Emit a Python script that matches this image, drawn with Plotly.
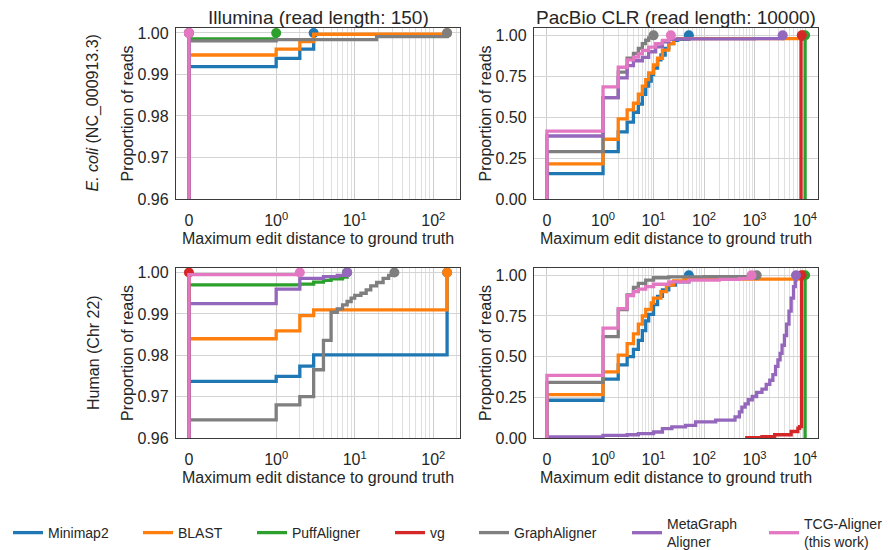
import math
import plotly.graph_objects as go

# ---------------- data ----------------
ALIGNERS = ["Minimap2", "BLAST", "PuffAligner", "vg", "GraphAligner",
            "MetaGraph<br>Aligner", "TCG-Aligner<br>(this work)"]

PANEL_TITLES = ["Illumina (read length: 150)", "PacBio CLR (read length: 10000)"]
ROW_LABELS = ["<i>E. coli</i> (NC_000913.3)", "Human (Chr 22)"]

# E. coli, Illumina
ecoli_ill_minimap2_x = [0, 1, 2, 3]
ecoli_ill_minimap2_y = [0.9919, 0.9939, 0.9961, 1.0]
ecoli_ill_blast_x = [0, 1, 2, 3, 150]
ecoli_ill_blast_y = [0.9947, 0.9961, 0.9979, 0.9997, 1.0]
ecoli_ill_puff_x = [0, 1]
ecoli_ill_puff_y = [0.9986, 1.0]
ecoli_ill_vg_x = [0]
ecoli_ill_vg_y = [1.0]
ecoli_ill_graph_x = [0, 1, 19, 150]
ecoli_ill_graph_y = [0.9981, 0.9984, 0.9991, 1.0]
ecoli_ill_meta_x = [0]
ecoli_ill_meta_y = [1.0]
ecoli_ill_tcg_x = [0]
ecoli_ill_tcg_y = [1.0]

# E. coli, PacBio CLR
ecoli_pb_minimap2_x = [0, 1, 2, 3, 4, 5, 6, 7, 8, 9, 10, 12, 14, 17, 20, 25, 30, 50]
ecoli_pb_minimap2_y = [0.155, 0.29, 0.41, 0.47, 0.53, 0.58, 0.64, 0.69, 0.72, 0.76,
                       0.80, 0.85, 0.88, 0.92, 0.95, 0.97, 0.975, 1.0]
ecoli_pb_blast_x = [0, 1, 2, 3, 4, 5, 6, 7, 8, 10, 12, 15, 20, 25, 30, 9000]
ecoli_pb_blast_y = [0.215, 0.365, 0.49, 0.545, 0.585, 0.64, 0.69, 0.73, 0.77, 0.82,
                    0.86, 0.91, 0.95, 0.975, 0.98, 1.0]
ecoli_pb_puff_x = [10000]
ecoli_pb_puff_y = [1.0]
ecoli_pb_vg_x = [8300, 8600]
ecoli_pb_vg_y = [0.975, 1.0]
ecoli_pb_graph_x = [0, 1, 2, 3, 4, 5, 6, 7, 8, 10]
ecoli_pb_graph_y = [0.29, 0.62, 0.775, 0.86, 0.89, 0.92, 0.95, 0.97, 0.985, 1.0]
ecoli_pb_meta_x = [0, 1, 2, 3, 4, 6, 8, 11, 15, 20, 30, 100, 1000, 3600]
ecoli_pb_meta_y = [0.385, 0.62, 0.74, 0.815, 0.845, 0.865, 0.90, 0.93, 0.96, 0.975,
                   0.978, 0.979, 0.98, 1.0]
ecoli_pb_tcg_x = [0, 1, 2, 3, 4, 5, 6, 8, 11, 15, 20, 22]
ecoli_pb_tcg_y = [0.415, 0.685, 0.805, 0.85, 0.867, 0.887, 0.908, 0.928, 0.949, 0.969,
                  0.984, 1.0]

# Human, Illumina
human_ill_minimap2_x = [0, 1, 2, 3, 150]
human_ill_minimap2_y = [0.9737, 0.9749, 0.9774, 0.9801, 1.0]
human_ill_blast_x = [0, 1, 2, 3, 150]
human_ill_blast_y = [0.9840, 0.9859, 0.9896, 0.9910, 1.0]
human_ill_puff_x = [0, 2, 3, 4, 5, 7, 8]
human_ill_puff_y = [0.9970, 0.9972, 0.9977, 0.9981, 0.9985, 0.9989, 1.0]
human_ill_vg_x = [0]
human_ill_vg_y = [1.0]
human_ill_graph_x = [0, 1, 2, 3, 4, 5, 6, 7, 8, 9, 10, 12, 14, 16, 19, 23, 27, 32]
human_ill_graph_y = [0.9644, 0.9680, 0.9700, 0.9765, 0.9836, 0.9904, 0.9912, 0.9922,
                     0.9930, 0.9938, 0.9945, 0.9950, 0.9958, 0.9968, 0.9976, 0.9986,
                     0.9993, 1.0]
human_ill_meta_x = [0, 1, 2, 4, 6, 8]
human_ill_meta_y = [0.9925, 0.9960, 0.9986, 0.9990, 0.9993, 1.0]
human_ill_tcg_x = [0, 2]
human_ill_tcg_y = [0.9995, 1.0]

# Human, PacBio CLR
human_pb_minimap2_x = [0, 1, 2, 3, 4, 5, 6, 7, 8, 10, 12, 15, 20, 27, 50]
human_pb_minimap2_y = [0.232, 0.362, 0.45, 0.50, 0.545, 0.60, 0.66, 0.72, 0.76, 0.82,
                       0.87, 0.91, 0.94, 0.96, 1.0]
human_pb_blast_x = [0, 1, 2, 3, 4, 5, 6, 7, 9, 10, 14, 18, 25, 40, 9000]
human_pb_blast_y = [0.267, 0.407, 0.51, 0.58, 0.64, 0.70, 0.75, 0.79, 0.83, 0.86,
                    0.90, 0.94, 0.965, 0.977, 1.0]
human_pb_puff_x = [10000]
human_pb_puff_y = [1.0]
human_pb_vg_x = [700, 1400, 2500, 5300, 7200, 7800, 8500]
human_pb_vg_y = [0.002, 0.008, 0.02, 0.04, 0.06, 0.07, 1.0]
human_pb_graph_x = [0, 1, 2, 3, 4, 5, 7, 10, 20, 100, 1000, 1100]
human_pb_graph_y = [0.342, 0.623, 0.79, 0.88, 0.925, 0.95, 0.97, 0.985, 0.99, 0.992,
                    0.994, 1.0]
human_pb_meta_x = [0, 1, 3, 5, 10, 15, 23, 43, 68, 170, 410, 500, 560, 650, 750, 900,
                   1100, 1400, 1700, 2000, 2300, 2600, 2900, 3200, 3500, 3900, 4300,
                   4800, 5300, 5900, 6400, 6600]
human_pb_meta_y = [0.006, 0.016, 0.02, 0.027, 0.037, 0.058, 0.068, 0.078, 0.099, 0.11,
                   0.13, 0.16, 0.19, 0.21, 0.235, 0.255, 0.28, 0.30, 0.33, 0.355, 0.39,
                   0.44, 0.48, 0.52, 0.57, 0.63, 0.70, 0.78, 0.86, 0.93, 0.97, 1.0]
human_pb_tcg_x = [0, 1, 2, 3, 4, 5, 7, 10, 20, 50, 200, 500, 870]
human_pb_tcg_y = [0.385, 0.675, 0.795, 0.875, 0.90, 0.915, 0.93, 0.945, 0.96, 0.97,
                  0.975, 0.98, 1.0]

X_MAJOR_LEFT = [0, 1, 10, 100]
X_MAJOR_RIGHT = [0, 1, 10, 100, 1000, 10000]
X_DATA_MAX_LEFT = 150
X_DATA_MAX_RIGHT = 10000
Y_TICKS_LEFT = [0.96, 0.97, 0.98, 0.99, 1.00]
Y_TICKS_RIGHT = [0.0, 0.25, 0.5, 0.75, 1.0]

# ---------------- styling ----------------
COLORS = ["#1f77b4", "#ff7f0e", "#2ca02c", "#d62728", "#7f7f7f", "#9467bd", "#e377c2"]
FONT = "Liberation Sans, Arial, Helvetica, sans-serif"
TXT = "#262626"
W, H = 888, 550
LIN = 1.0 / (1.0 - 0.1)  # matplotlib symlog linscale adjustment (linthresh=1)


def tx(v):
    """symlog transform (linthresh = 1, base 10)"""
    return v * LIN if v <= 1 else LIN + math.log10(v)


def px_x(p):
    return p / W


def px_y(p):
    return 1 - p / H


panels = [
    dict(xs=[ecoli_ill_minimap2_x, ecoli_ill_blast_x, ecoli_ill_puff_x, ecoli_ill_vg_x,
             ecoli_ill_graph_x, ecoli_ill_meta_x, ecoli_ill_tcg_x],
         ys=[ecoli_ill_minimap2_y, ecoli_ill_blast_y, ecoli_ill_puff_y, ecoli_ill_vg_y,
             ecoli_ill_graph_y, ecoli_ill_meta_y, ecoli_ill_tcg_y],
         xmax=X_DATA_MAX_LEFT, xmajor=X_MAJOR_LEFT, yticks=Y_TICKS_LEFT, yfmt="{:.2f}",
         yrange=[0.96, 1.0012], col=0, row=0),
    dict(xs=[ecoli_pb_minimap2_x, ecoli_pb_blast_x, ecoli_pb_puff_x, ecoli_pb_vg_x,
             ecoli_pb_graph_x, ecoli_pb_meta_x, ecoli_pb_tcg_x],
         ys=[ecoli_pb_minimap2_y, ecoli_pb_blast_y, ecoli_pb_puff_y, ecoli_pb_vg_y,
             ecoli_pb_graph_y, ecoli_pb_meta_y, ecoli_pb_tcg_y],
         xmax=X_DATA_MAX_RIGHT, xmajor=X_MAJOR_RIGHT, yticks=Y_TICKS_RIGHT, yfmt="{:.2f}",
         yrange=[0.0, 1.045], col=1, row=0),
    dict(xs=[human_ill_minimap2_x, human_ill_blast_x, human_ill_puff_x, human_ill_vg_x,
             human_ill_graph_x, human_ill_meta_x, human_ill_tcg_x],
         ys=[human_ill_minimap2_y, human_ill_blast_y, human_ill_puff_y, human_ill_vg_y,
             human_ill_graph_y, human_ill_meta_y, human_ill_tcg_y],
         xmax=X_DATA_MAX_LEFT, xmajor=X_MAJOR_LEFT, yticks=Y_TICKS_LEFT, yfmt="{:.2f}",
         yrange=[0.96, 1.0011], col=0, row=1),
    dict(xs=[human_pb_minimap2_x, human_pb_blast_x, human_pb_puff_x, human_pb_vg_x,
             human_pb_graph_x, human_pb_meta_x, human_pb_tcg_x],
         ys=[human_pb_minimap2_y, human_pb_blast_y, human_pb_puff_y, human_pb_vg_y,
             human_pb_graph_y, human_pb_meta_y, human_pb_tcg_y],
         xmax=X_DATA_MAX_RIGHT, xmajor=X_MAJOR_RIGHT, yticks=Y_TICKS_RIGHT, yfmt="{:.2f}",
         yrange=[0.0, 1.045], col=1, row=1),
]

COL_PX = [(176, 460), (534, 818)]
ROW_PX = [(28, 199), (268, 438)]
LEGEND_LINE_START = [10, 140, 254, 392, 476, 629, 766]
LEGEND_Y = 533

fig = go.Figure()
layout = dict(
    width=W, height=H, margin=dict(l=0, r=0, t=0, b=0, autoexpand=False),
    paper_bgcolor="white", plot_bgcolor="white",
    font=dict(family=FONT, size=16, color=TXT),
    annotations=[], shapes=[],
)

for pi, p in enumerate(panels):
    k = "" if pi == 0 else str(pi + 1)
    xa, ya = "x" + k, "y" + k
    c0, c1 = COL_PX[p["col"]]
    r0, r1 = ROW_PX[p["row"]]
    span = tx(p["xmax"])
    margin = 0.05 * span
    major = p["xmajor"]
    ticktext = ["0" if v == 0 else "10<sup>%d</sup>" % round(math.log10(v)) for v in major]
    minor = []
    for d in range(0, len(major) - 1):
        for m in range(2, 10):
            v = m * 10 ** d
            if tx(v) < span + margin:
                minor.append(tx(v))
    layout["xaxis" + k] = dict(
        domain=[px_x(c0), px_x(c1)], anchor=ya, range=[-margin, span + margin],
        tickmode="array", tickvals=[tx(v) for v in major], ticktext=ticktext,
        showgrid=True, gridcolor="#cccccc", gridwidth=1, zeroline=False,
        showline=True, linecolor="#3a3a3a", linewidth=1.3, mirror=True,
        ticks="", ticklabelstandoff=7, tickfont=dict(size=16, color=TXT),
        minor=dict(tickvals=minor, showgrid=True, gridcolor="#e0e0e0", gridwidth=1),
    )
    layout["yaxis" + k] = dict(
        domain=[px_y(r1), px_y(r0)], anchor=xa, range=p["yrange"],
        tickmode="array", tickvals=p["yticks"],
        ticktext=[p["yfmt"].format(v) for v in p["yticks"]],
        showgrid=True, gridcolor="#d4d4d4", gridwidth=1, zeroline=False,
        showline=True, linecolor="#3a3a3a", linewidth=1.3, mirror=True,
        ticks="", ticklabelstandoff=3, tickfont=dict(size=16, color=TXT),
    )
    for si in range(len(ALIGNERS)):
        xs = p["xs"][si]
        ys = p["ys"][si]
        lx = [tx(xs[0])] + [tx(v) for v in xs]
        ly = [0.0] + list(ys)
        fig.add_trace(go.Scatter(
            x=lx, y=ly, mode="lines", line=dict(color=COLORS[si], width=3.3, shape="hv"),
            name=ALIGNERS[si], legend="legend" if si == 0 else "legend%d" % (si + 1),
            showlegend=(pi == 0), xaxis=xa, yaxis=ya, hoverinfo="skip",
        ))
        fig.add_trace(go.Scatter(
            x=[tx(xs[-1])], y=[ys[-1]], mode="markers",
            marker=dict(color=COLORS[si], size=10), cliponaxis=False,
            showlegend=False, xaxis=xa, yaxis=ya, hoverinfo="skip",
        ))
    cx = (c0 + c1) / 2
    cy = (r0 + r1) / 2
    if p["row"] == 0:
        layout["annotations"].append(dict(
            text=PANEL_TITLES[p["col"]], x=px_x(cx), y=px_y(18), xref="paper", yref="paper",
            showarrow=False, xanchor="center", yanchor="middle", font=dict(size=19, color=TXT)))
    layout["annotations"].append(dict(
        text="Maximum edit distance to ground truth", x=px_x(cx), y=px_y(r1 + 39),
        xref="paper", yref="paper", showarrow=False, xanchor="center", yanchor="middle",
        font=dict(size=16, color=TXT)))
    layout["annotations"].append(dict(
        text="Proportion of reads", x=px_x(c0 - 49), y=px_y(cy), xref="paper", yref="paper",
        showarrow=False, textangle=-90, xanchor="center", yanchor="middle",
        font=dict(size=16, color=TXT)))
    if p["col"] == 0:
        layout["annotations"].append(dict(
            text=ROW_LABELS[p["row"]], x=px_x(c0 - 83), y=px_y(cy), xref="paper", yref="paper",
            showarrow=False, textangle=-90, xanchor="center", yanchor="middle",
            font=dict(size=16, color=TXT)))

for si in range(len(ALIGNERS)):
    key = "legend" if si == 0 else "legend%d" % (si + 1)
    layout[key] = dict(
        x=px_x(LEGEND_LINE_START[si] - 2), y=px_y(LEGEND_Y), xanchor="left", yanchor="middle",
        orientation="h", bgcolor="rgba(0,0,0,0)", borderwidth=0,
        font=dict(size=14, color=TXT), itemwidth=30,
    )

fig.update_layout(**layout)
fig.write_html("out.html", config={"displayModeBar": False},
               post_script="document.body.style.margin='0';")
